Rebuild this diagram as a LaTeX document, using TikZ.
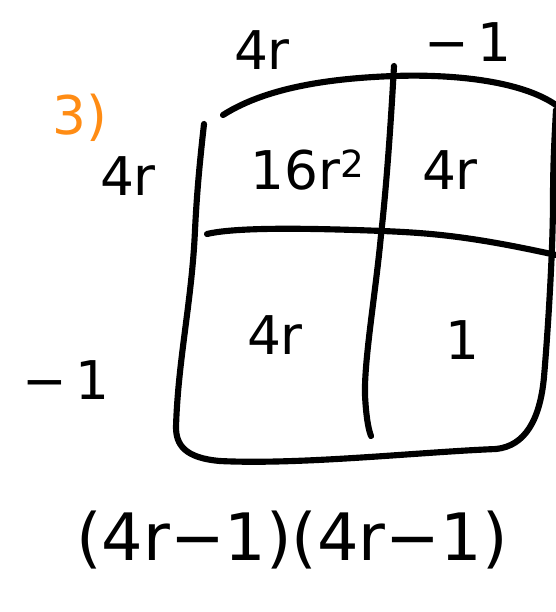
\documentclass[tikz,border=0pt]{standalone}
\usepackage{fontspec}
\setmainfont{DejaVu Sans}
\definecolor{inkorange}{RGB}{255,140,20}
\begin{document}
\begin{tikzpicture}[x=0.75pt,y=-0.75pt,
  ink/.style={line width=4.6pt,line cap=round,line join=round},
  hand/.style={inner sep=0pt,font=\fontsize{40}{44}\selectfont},
  bighand/.style={inner sep=0pt,font=\fontsize{49}{54}\selectfont}]
\useasboundingbox (0,0) rectangle (556,612);
\clip (0,0) rectangle (556,612);
% outer box
\draw[ink] (223,115) .. controls (270,85) and (340,78) .. (394,76)
  .. controls (450,74) and (520,80) .. (556,105);
\draw[ink] (204,124) .. controls (200,160) and (197,190) .. (195,230)
  .. controls (192,300) and (178,360) .. (176,427)
  .. controls (176,445) and (185,458) .. (220,461)
  .. controls (300,465) and (420,452) .. (496,449)
  .. controls (525,446) and (540,420) .. (544,377)
  .. controls (548,330) and (553,250) .. (553,200)
  .. controls (553,160) and (555,130) .. (556,110);
% dividers
\draw[ink] (394,66) .. controls (390,140) and (385,200) .. (381,235)
  .. controls (376,290) and (364,360) .. (365,395)
  .. controls (366,415) and (368,428) .. (371,436);
\draw[ink] (207,234) .. controls (240,226) and (330,229) .. (383,231)
  .. controls (430,233) and (470,236) .. (556,255);
% labels
\node[hand] (top4r) at (262,50) {4r};
\node[hand] (topm1) at (468,42) {−\,1};
\node[hand] (left4r) at (128,176) {4r};
\node[hand] (c11) at (308,170) {16r\textsuperscript{2}};
\node[hand] (c12) at (450,170) {4r};
\node[hand] (c21) at (275,335) {4r};
\node[hand] (c22) at (462,340) {1};
\node[hand] (leftm1) at (66,380) {−\,1};
\node[bighand] (prod) at (292,540) {(4r−1)(4r−1)};
\node[hand,text=inkorange,anchor=east] (orange) at (108,118) {3)};
\end{tikzpicture}
\end{document}
